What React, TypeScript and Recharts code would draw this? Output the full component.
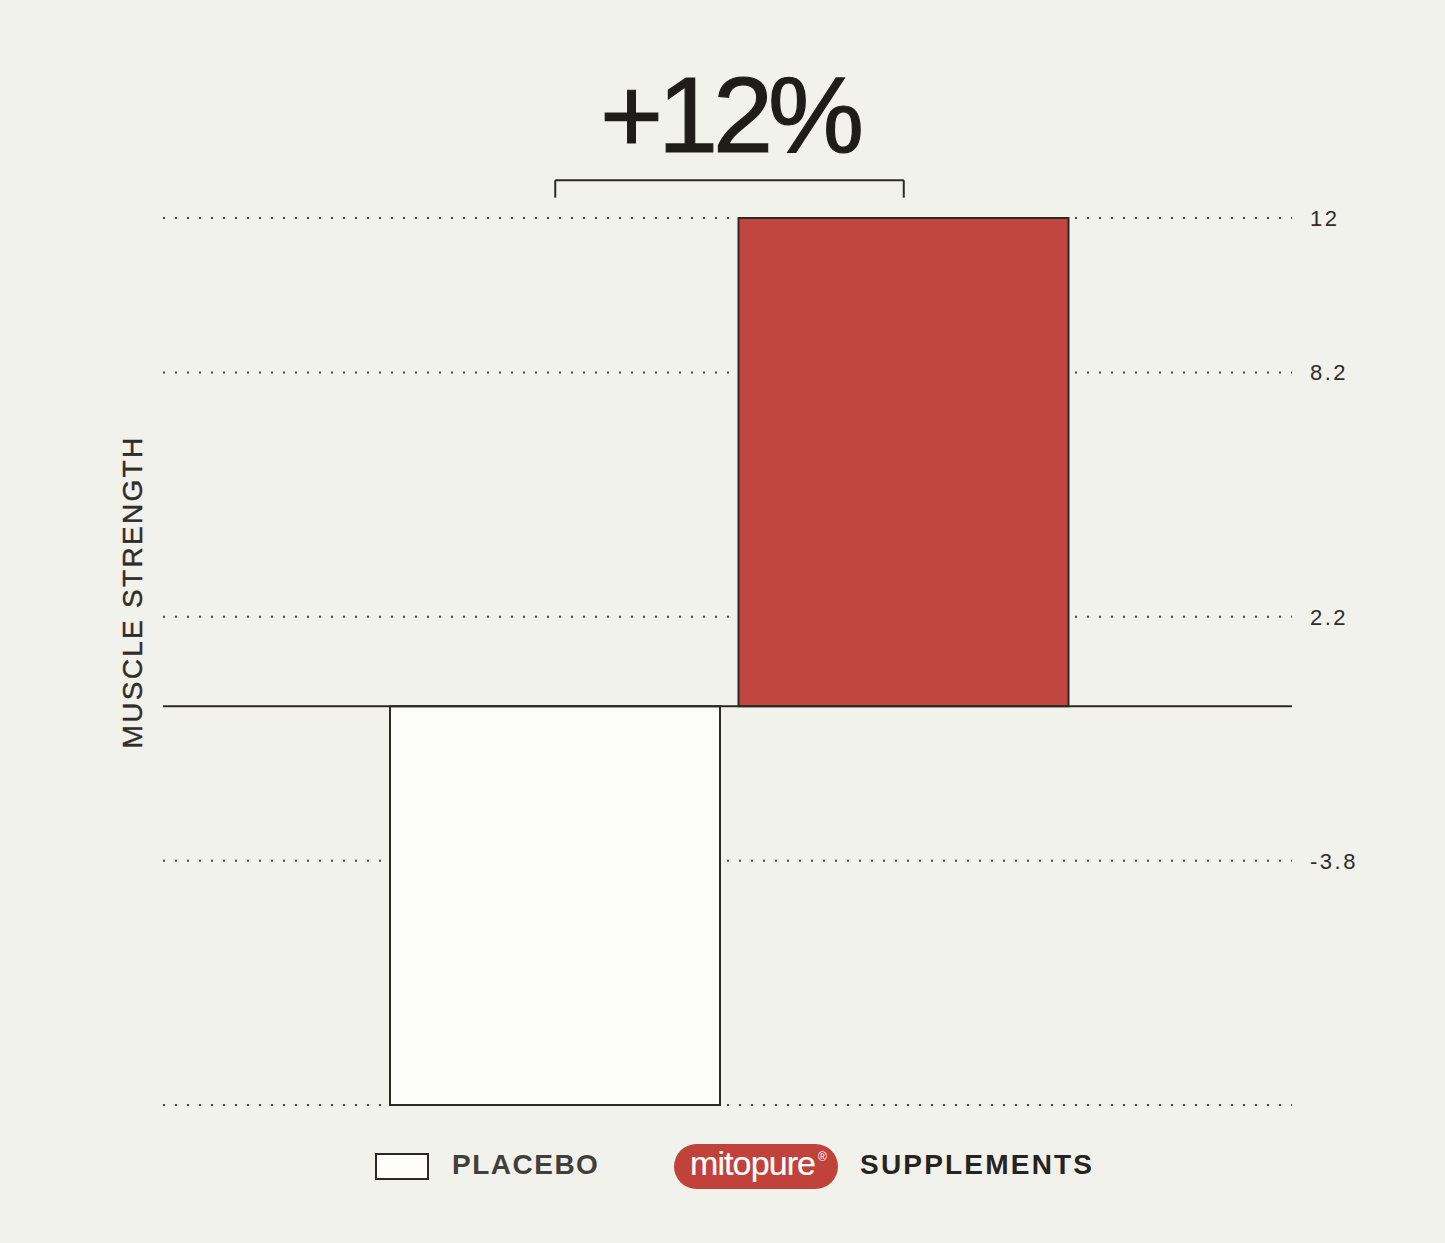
import { BarChart, Bar, XAxis, YAxis, CartesianGrid, ReferenceLine, Cell } from "recharts";

const categories = ["Placebo", "Supplements"];
const values = [-9.8, 12];
const yTicks = [12, 8.2, 2.2, -3.8, -9.8];
const yLabelled = [12, 8.2, 2.2, -3.8];
const barFills = ["#fcfcf8", "#c0463f"];
const changeText = "+12%";
const bracketY = 12.93;
const bracketFootY = 12.5;
const axisTitle = "MUSCLE STRENGTH";
const legendNames = ["PLACEBO", "SUPPLEMENTS"];
const brandName = "mitopure";

const BG = "#f2f2ec";
const INK = "#2b2825";
const FONT = "'Liberation Sans', Arial, sans-serif";

const data = categories.map((name, i) => ({ name, value: values[i] }));

// bar with a background-coloured halo so the dotted grid stops short of it
function HaloBar(props: any) {
  const { x, y, width, height, fill, value } = props;
  const top = Math.min(y, y + height);
  const h = Math.abs(height);
  const pad = 6;
  const positive = (Array.isArray(value) ? value[1] : value) >= 0;
  return (
    <g>
      <rect
        x={x - pad}
        y={positive ? top - 2 : top + 2}
        width={width + pad * 2}
        height={h}
        fill={BG}
      />
      <rect x={x} y={top} width={width} height={h} fill={fill} stroke={INK} strokeWidth={2} />
    </g>
  );
}

function ChangeLabel(props: any) {
  const { viewBox } = props;
  if (!viewBox) return null;
  const cx = viewBox.x + viewBox.width / 2;
  return (
    <text
      x={cx}
      y={viewBox.y - 28}
      textAnchor="middle"
      fill="#1f1d1a"
      stroke="#1f1d1a"
      strokeWidth={1.2}
      style={{ fontFamily: FONT, fontSize: 108, letterSpacing: -5 }}
    >
      {changeText}
    </text>
  );
}

export default function App() {
  return (
    <div style={{ position: "absolute", left: 0, top: 0, width: 1445, height: 1243, background: BG }}>
      <BarChart width={1445} height={1243} data={data} margin={{ top: 218, right: 73, bottom: 138, left: 163 }}>
        <CartesianGrid vertical={false} stroke="#4a4743" strokeWidth={2} strokeDasharray="2 10" />
        <XAxis dataKey="name" hide padding={{ left: 218, right: 214 }} />
        <YAxis
          orientation="right"
          width={80}
          domain={[-9.8, 12]}
          ticks={yTicks}
          axisLine={false}
          tickLine={false}
          tickMargin={12}
          tickFormatter={(v: number) => (yLabelled.includes(v) ? String(v) : "")}
          tick={{ fill: "#2f2c29", fontSize: 22, fontFamily: FONT, letterSpacing: 2.5 }}
        />
        <Bar dataKey="value" barSize={330} shape={HaloBar} isAnimationActive={false}>
          {data.map((d, i) => (
            <Cell key={d.name} fill={barFills[i]} />
          ))}
        </Bar>
        <ReferenceLine y={0} stroke={INK} strokeWidth={2} />
        <ReferenceLine
          ifOverflow="visible"
          segment={[{ x: categories[0], y: bracketY }, { x: categories[1], y: bracketY }]}
          stroke={INK}
          strokeWidth={2}
          label={<ChangeLabel />}
        />
        <ReferenceLine
          ifOverflow="visible"
          segment={[{ x: categories[0], y: bracketY }, { x: categories[0], y: bracketFootY }]}
          stroke={INK}
          strokeWidth={2}
        />
        <ReferenceLine
          ifOverflow="visible"
          segment={[{ x: categories[1], y: bracketY }, { x: categories[1], y: bracketFootY }]}
          stroke={INK}
          strokeWidth={2}
        />
      </BarChart>
      <svg
        width={1445}
        height={1243}
        style={{ position: "absolute", left: 0, top: 0, pointerEvents: "none" }}
      >
        <text
          x={0}
          y={0}
          transform="translate(142 592) rotate(-90)"
          textAnchor="middle"
          fill="#2f2c29"
          stroke="#2f2c29"
          strokeWidth={0.4}
          style={{ fontFamily: FONT, fontSize: 28, letterSpacing: 2.3 }}
        >
          {axisTitle}
        </text>
        <rect x={376} y={1154} width={52} height={25} fill="#fdfdfa" stroke={INK} strokeWidth={2} />
        <text
          x={452}
          y={1174}
          fill="#423e3a"
          style={{ fontFamily: FONT, fontSize: 28, fontWeight: 700, letterSpacing: 1.5 }}
        >
          {legendNames[0]}
        </text>
        <rect x={674} y={1144} width={164} height={45} rx={22.5} fill="#c1423b" />
        <text
          x={690}
          y={1175}
          fill="#ffffff"
          stroke="#ffffff"
          strokeWidth={0.2}
          style={{ fontFamily: FONT, fontSize: 34, letterSpacing: -0.9 }}
        >
          {brandName}
        </text>
        <text x={818} y={1161} fill="#ffffff" style={{ fontFamily: FONT, fontSize: 12 }}>
          ®
        </text>
        <text
          x={860}
          y={1174}
          fill="#262320"
          style={{ fontFamily: FONT, fontSize: 28, fontWeight: 700, letterSpacing: 2.2 }}
        >
          {legendNames[1]}
        </text>
      </svg>
    </div>
  );
}
